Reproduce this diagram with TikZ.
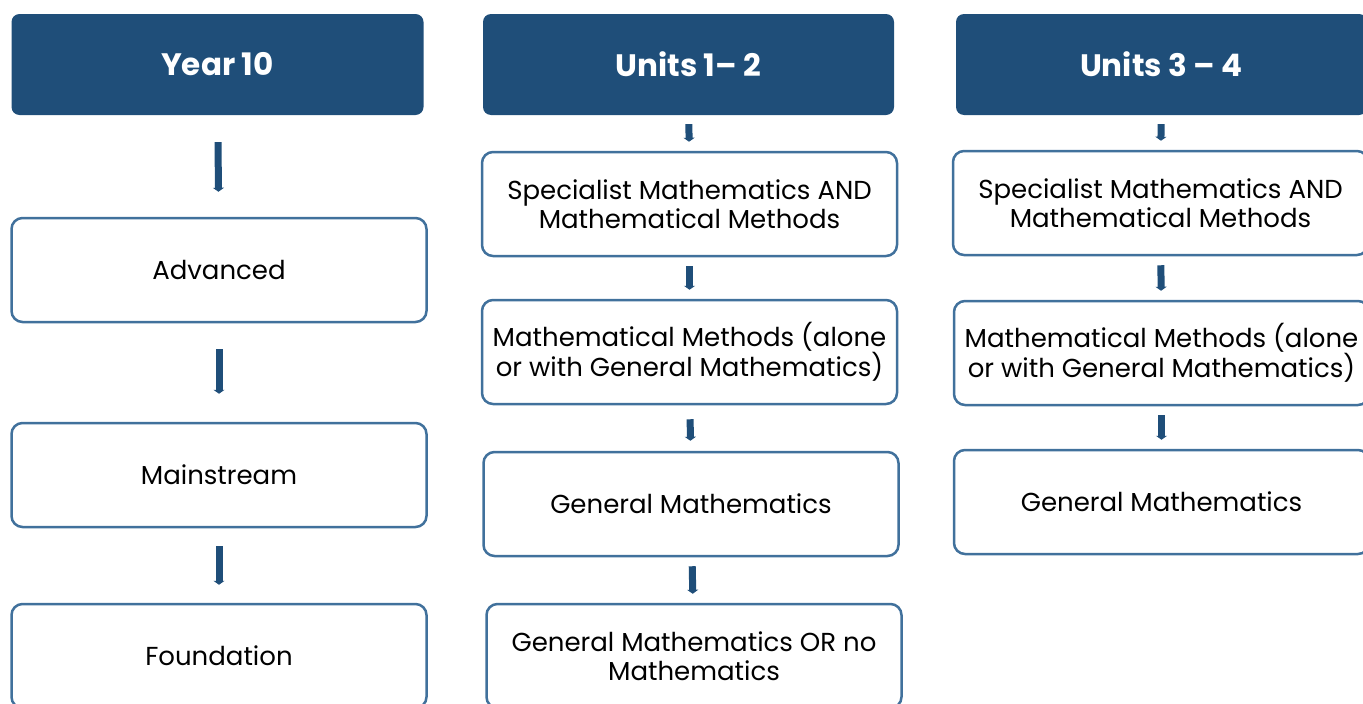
\documentclass[tikz,border=0pt]{standalone}
\usepackage{fontspec}
\setmainfont{Poppins}
\usetikzlibrary{arrows.meta}
\definecolor{headblue}{RGB}{31,78,121}
\definecolor{edgeblue}{RGB}{65,113,156}

\begin{document}
\begin{tikzpicture}[x=1pt, y=-1pt,
    head/.style = {fill=headblue, rounded corners=8pt, text=white, font=\fontsize{31}{36}\selectfont\bfseries, minimum width=411pt, minimum height=101pt},
    stage/.style = {draw=edgeblue, line width=2.5pt, rounded corners=11pt, fill=white, align=center, font=\fontsize{26}{29}\selectfont, minimum width=415pt, minimum height=104pt},
    flow/.style = {draw=headblue, line width=7pt, -{Triangle[length=4pt,width=11pt]}, shorten <=9pt, shorten >=9pt}]

    \useasboundingbox (0,0) rectangle (1363,704);

    % Year 10
    \node[head, minimum width=412pt] (y10) at (217.5,64.5) {Year 10};
    \node[stage] (adv) at (219,270) {Advanced};
    \node[stage] (main) at (219,475) {Mainstream};
    \node[stage] (found) at (219,656) {Foundation};

    % Units 1-2
    \node[head] (u12) at (688.5,64.5) {Units 1– 2};
    \node[stage] (a12) at (689.5,204) {Specialist Mathematics AND\\Mathematical Methods};
    \node[stage] (b12) at (689.5,352) {Mathematical Methods (alone\\or with General Mathematics)};
    \node[stage] (c12) at (691,504) {General Mathematics};
    \node[stage] (d12) at (694,656) {General Mathematics OR no\\Mathematics};

    % Units 3-4
    \node[head] (u34) at (1161.5,64.5) {Units 3 – 4};
    \node[stage] (a34) at (1160.5,203) {Specialist Mathematics AND\\Mathematical Methods};
    \node[stage] (b34) at (1161.5,353) {Mathematical Methods (alone\\or with General Mathematics)};
    \node[stage] (c34) at (1161.5,502) {General Mathematics};

    \draw[flow, shorten <=27pt, shorten >=25pt] (y10) -- (adv);
    \draw[flow, shorten <=26pt, shorten >=28pt] (adv) -- (main);
    \draw[flow, shorten <=18pt, shorten >=18pt] (main) -- (found);

    \draw[flow] (u12) -- (a12);
    \draw[flow] (a12) -- (b12);
    \draw[flow, shorten <=14pt, shorten >=10pt] (b12) -- (c12);
    \draw[flow] (c12) -- (d12);

    \draw[flow] (u34) -- (a34);
    \draw[flow] (a34) -- (b34);
    \draw[flow] (b34) -- (c34);
\end{tikzpicture}
\end{document}
